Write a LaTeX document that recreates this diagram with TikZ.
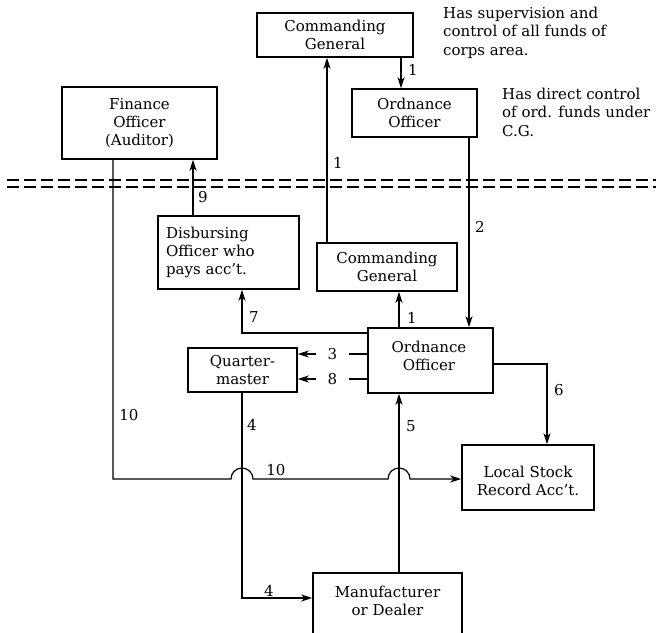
\documentclass[tikz,border=0pt]{standalone}
\usepackage{fontspec}
\setmainfont{DejaVu Serif}
\usetikzlibrary{arrows.meta,calc}

\newcommand{\chartfont}{\fontsize{15}{18.3}\selectfont}

\tikzset{
  box/.style={draw, line width=1.5pt, rectangle, inner sep=0pt, align=center,
              font=\chartfont},
  conn/.style={line width=1.2pt, -{Stealth[length=11pt,width=7pt,inset=3pt]}},
  lbl/.style={font=\chartfont, inner sep=1pt},
  gaplbl/.style={font=\chartfont, fill=white, inner xsep=12pt, inner ysep=1pt},
  note/.style={font=\chartfont, align=left, inner sep=0pt, anchor=north west},
  dashline/.style={line width=1.4pt, dash pattern=on 12pt off 5pt},
}

\begin{document}
\begin{tikzpicture}[x=1pt,y=1pt]
\useasboundingbox (0,0) rectangle (656,-632);

% offices above the line
\node[box, minimum width=156pt, minimum height=44pt] (cgT) at (335,-35) {Commanding\\General};
\node[box, minimum width=125pt, minimum height=48pt] (ooT) at (414.5,-113) {Ordnance\\Officer};
\node[box, minimum width=155pt, minimum height=72pt] (fin) at (139.5,-123) {Finance\\Officer\\(Auditor)};

\node[note] (noteA) at (443,-7) {Has supervision and\\control of all funds of\\corps area.};
\node[note] (noteB) at (502,-88) {Has direct control\\of ord. funds under\\C.G.};

% offices below the line
\node[box, minimum width=141pt, minimum height=73pt, text width=125pt, align=left]
  (dis) at (228.5,-252.5) {Disbursing\\Officer who\\pays acc't.};
\node[box, minimum width=140pt, minimum height=48pt] (cgM) at (387,-267) {Commanding\\General};
\node[box, minimum width=125pt, minimum height=65pt] (ooM) at (430.5,-360.5) {};
\node[box, draw=none] (ooMtext) at (429,-356) {Ordnance\\Officer};
\node[box, minimum width=109pt, minimum height=44pt] (qm) at (242.5,-370) {Quarter-\\master};
\node[box, minimum width=132pt, minimum height=65pt] (ls) at (528,-477.5) {};
\node[box, draw=none] (lstext) at (528,-481) {Local Stock\\Record Acc't.};
\node[box, minimum width=149pt, minimum height=80pt, anchor=north] (mfr) at (387.5,-572) {};
\node[box, draw=none] (mfrtext) at (387.5,-601) {Manufacturer\\or Dealer};

% routing columns and rows
\coordinate (xa) at (401,0);
\coordinate (xb) at (327,0);
\coordinate (xc) at (469,0);
\coordinate (xd) at (399,0);
\coordinate (xe) at (242,0);
\coordinate (xf) at (193,0);
\coordinate (xg) at (113,0);
\coordinate (xh) at (547,0);
\coordinate (y7) at (0,-333);
\coordinate (y3) at (0,-354);
\coordinate (y6) at (0,-364);
\coordinate (y8) at (0,-379);
\coordinate (y10) at (0,-479);
\coordinate (y4) at (0,-598);

% 1: C.G. to ordnance officer (top)
\draw[conn] (xa |- cgT.south) -- (xa |- ooT.north);
\node[lbl] (l1a) at (413,-70) {1};
% 1: lower C.G. up to upper C.G.
\draw[conn] (xb |- cgM.north) -- (xb |- cgT.south);
\node[lbl] (l1b) at (338,-163) {1};
% 2: ordnance officer (top) down to ordnance officer (bottom)
\draw[conn] (xc |- ooT.south) -- (xc |- ooM.north);
\node[lbl] (l2) at (480,-227) {2};
% 1: ordnance officer up to lower C.G.
\draw[conn] (xd |- ooM.north) -- (xd |- cgM.south);
\node[lbl] (l1c) at (412,-318) {1};
% 7: ordnance officer to disbursing officer
\draw[conn] (ooM.west |- y7) -- (xe |- y7) -- (xe |- dis.south);
\node[lbl] (l7) at (254,-317) {7};
% 9: disbursing officer to finance officer
\draw[conn] (xf |- dis.north) -- (xf |- fin.south);
\node[lbl] (l9) at (203,-197) {9};
% 3 and 8: ordnance officer to quartermaster
\draw[conn] (ooM.west |- y3) -- node[gaplbl] (l3) {3} (qm.east |- y3);
\draw[conn] (ooM.west |- y8) -- node[gaplbl] (l8) {8} (qm.east |- y8);
% 6: ordnance officer to local stock record
\draw[conn] (ooM.east |- y6) -- (xh |- y6) -- (xh |- ls.north);
\node[lbl] (l6) at (559,-390) {6};
% 4: quartermaster to manufacturer
\draw[conn] (xe |- qm.south) -- (xe |- y4) -- (mfr.west |- y4);
\node[lbl] (l4a) at (252,-425) {4};
\node[lbl] (l4b) at (269,-591) {4};
% 5: manufacturer to ordnance officer
\draw[conn] (xd |- mfr.north) -- (xd |- ooM.south);
\node[lbl] (l5) at (411,-426) {5};
% 10: finance officer to local stock record, hopping over 4 and 5
\draw[conn] (xg |- fin.south) -- (xg |- y10)
  -- ($(xe |- y10)+(-11,0)$) arc[start angle=180, end angle=0, radius=11]
  -- ($(xd |- y10)+(-11,0)$) arc[start angle=180, end angle=0, radius=11]
  -- (ls.west |- y10);
\node[lbl] (l10a) at (129,-415) {10};
\node[lbl] (l10b) at (276,-470) {10};

% double dashed dividing line
\draw[dashline] (7,-180) -- (656,-180);
\draw[dashline] (7,-187) -- (656,-187);
\end{tikzpicture}
\end{document}
